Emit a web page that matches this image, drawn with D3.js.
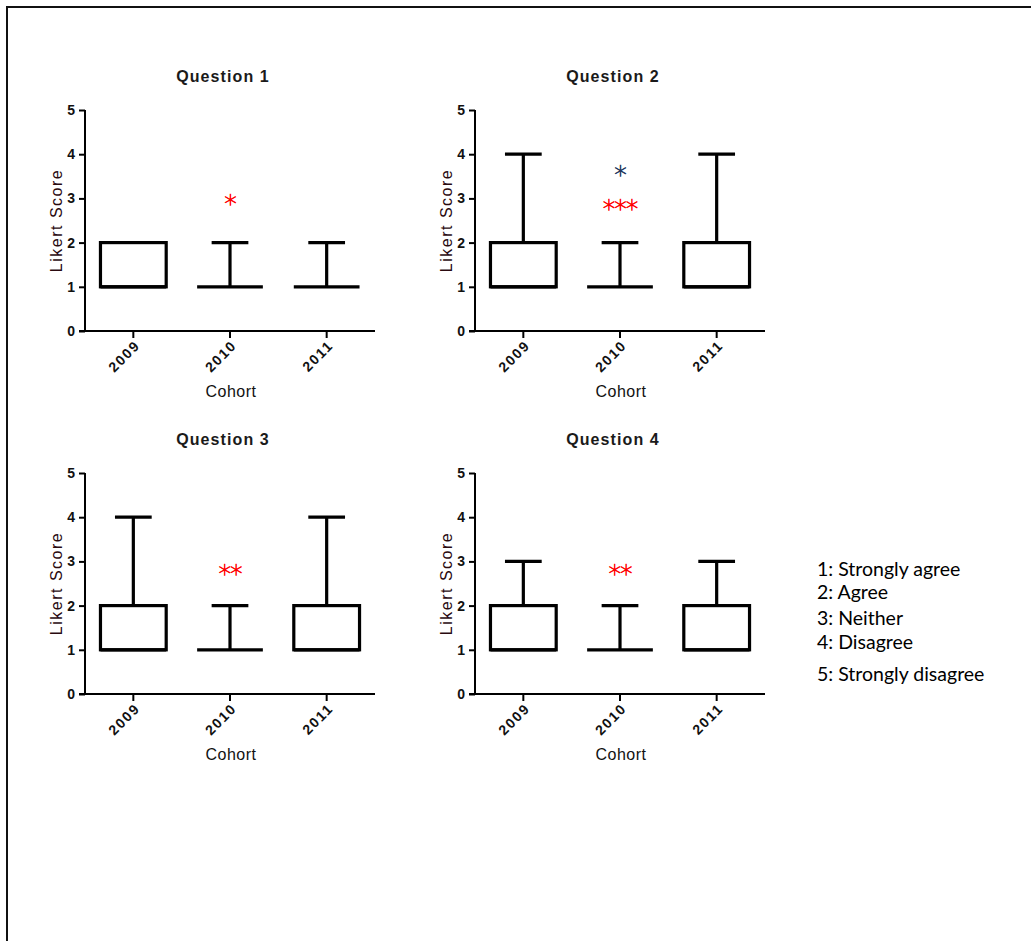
<!DOCTYPE html>
<html>
<head>
<meta charset="utf-8">
<script src="https://cdn.jsdelivr.net/npm/d3@7"></script>
<style>
  body { margin: 0; background: #fff; }
  svg { display: block; }
</style>
</head>
<body>
<svg id="chart" width="1031" height="941"></svg>
<script>
// ---- data ----
const questions = ["Question 1", "Question 2", "Question 3", "Question 4"];
const cohorts = ["2009", "2010", "2011"];
const yTicks = [0, 1, 2, 3, 4, 5];

// five-number summaries per cohort: [min, q1, median, q3, max]
const q1Stats = [[1, 1, 1, 2, 2], [1, 1, 1, 1, 2], [1, 1, 1, 1, 2]];
const q2Stats = [[1, 1, 1, 2, 4], [1, 1, 1, 1, 2], [1, 1, 1, 2, 4]];
const q3Stats = [[1, 1, 1, 2, 4], [1, 1, 1, 1, 2], [1, 1, 1, 2, 4]];
const q4Stats = [[1, 1, 1, 2, 3], [1, 1, 1, 1, 2], [1, 1, 1, 2, 3]];

// significance markers
const sigQuestion = [0, 1, 1, 2, 3];
const sigCohort = ["2010", "2010", "2010", "2010", "2010"];
const sigValue = [3.0, 3.67, 2.88, 2.85, 2.85];
const sigLabel = ["*", "*", "***", "**", "**"];
const sigColor = ["#ff0000", "#22365e", "#ff0000", "#ff0000", "#ff0000"];

const scaleKey = ["1: Strongly agree", "2: Agree", "3: Neither", "4: Disagree", "5: Strongly disagree"];

// ---- layout ----
const allStats = [q1Stats, q2Stats, q3Stats, q4Stats];
const plotW = 290, plotH = 221;
const colX = [85, 475];
const rowY = [110, 473];
const font = "'Liberation Sans', Arial, sans-serif";

const svg = d3.select("#chart");

// page frame
svg.append("path")
  .attr("d", "M7,945V7H1035")
  .attr("fill", "none")
  .attr("stroke", "#111")
  .attr("stroke-width", 2);

const x = d3.scaleBand().domain(cohorts).range([0, plotW]);
const y = d3.scaleLinear().domain([0, 5]).range([plotH, 0]);
const boxW = x.step() * 0.68;
const capW = x.step() * 0.38;

questions.forEach((q, qi) => {
  const g = svg.append("g")
    .attr("transform", `translate(${colX[qi % 2]},${rowY[Math.floor(qi / 2)]})`);

  // title
  g.append("text")
    .attr("x", 138).attr("y", -28)
    .attr("text-anchor", "middle")
    .attr("font-family", font).attr("font-size", 16).attr("font-weight", "bold")
    .attr("letter-spacing", 1.1)
    .attr("fill", "#1a1a1a")
    .text(q);

  // axes
  const yAxis = g.append("g")
    .call(d3.axisLeft(y).tickValues(yTicks).tickFormat(d3.format("d")).tickSize(6).tickPadding(4));
  const xAxis = g.append("g")
    .attr("transform", `translate(0,${plotH})`)
    .call(d3.axisBottom(x).tickSize(7).tickSizeOuter(0));

  [yAxis, xAxis].forEach(a => {
    a.select(".domain").attr("stroke", "#000").attr("stroke-width", 2);
    a.selectAll(".tick line").attr("stroke", "#000").attr("stroke-width", 2);
    a.selectAll("text")
      .attr("font-family", font).attr("font-size", 14).attr("font-weight", "bold")
      .attr("fill", "#111");
  });
  yAxis.select(".domain").attr("d", `M0,${plotH}V0`);
  xAxis.select(".domain").attr("d", `M-6,0H${plotW}`);

  xAxis.selectAll(".tick text")
    .attr("x", null).attr("y", null).attr("dy", "0.35em")
    .attr("text-anchor", "end")
    .attr("letter-spacing", 1.6)
    .attr("transform", "translate(4,12) rotate(-45)");

  // axis titles
  g.append("text")
    .attr("transform", `translate(-23,${plotH / 2}) rotate(-90)`)
    .attr("text-anchor", "middle")
    .attr("font-family", font).attr("font-size", 16)
    .attr("letter-spacing", 1.5)
    .attr("fill", "#2a0a10")
    .text("Likert Score");
  g.append("text")
    .attr("x", plotW / 2 + 1).attr("y", plotH + 66)
    .attr("text-anchor", "middle")
    .attr("font-family", font).attr("font-size", 16)
    .attr("letter-spacing", 0.5)
    .attr("fill", "#111")
    .text("Cohort");

  // box-and-whisker marks
  const stats = allStats[qi];
  cohorts.forEach((c, ci) => {
    const [mn, lo, med, hi, mx] = stats[ci];
    const cx = x(c) + x.bandwidth() / 2;
    const m = g.append("g")
      .attr("fill", "none").attr("stroke", "#000").attr("stroke-width", 3.2);
    // upper whisker
    if (mx > hi) {
      m.append("line").attr("x1", cx).attr("x2", cx).attr("y1", y(hi)).attr("y2", y(mx));
      m.append("line").attr("x1", cx - capW / 2).attr("x2", cx + capW / 2).attr("y1", y(mx)).attr("y2", y(mx));
    }
    // lower whisker
    if (mn < lo) {
      m.append("line").attr("x1", cx).attr("x2", cx).attr("y1", y(lo)).attr("y2", y(mn));
      m.append("line").attr("x1", cx - capW / 2).attr("x2", cx + capW / 2).attr("y1", y(mn)).attr("y2", y(mn));
    }
    // box
    if (hi > lo) {
      m.append("rect")
        .attr("x", cx - boxW / 2).attr("y", y(hi))
        .attr("width", boxW).attr("height", y(lo) - y(hi));
    }
    // median
    m.append("line").attr("x1", cx - boxW / 2).attr("x2", cx + boxW / 2).attr("y1", y(med)).attr("y2", y(med));
  });

  // significance markers
  sigQuestion.forEach((sq, i) => {
    if (sq !== qi) return;
    const fs = 25;
    g.append("text")
      .attr("x", x(sigCohort[i]) + x.bandwidth() / 2)
      .attr("y", y(sigValue[i]) + fs * 0.55)
      .attr("text-anchor", "middle")
      .attr("font-family", "'DejaVu Sans', sans-serif")
      .attr("font-weight", 200)
      .attr("font-size", fs)
      .attr("letter-spacing", -1)
      .attr("fill", sigColor[i])
      .attr("stroke", sigColor[i])
      .attr("stroke-width", 0.6)
      .text(sigLabel[i]);
  });
});

// score key
const keyY = [576, 599, 625, 649, 681];
svg.append("g")
  .selectAll("text")
  .data(scaleKey)
  .join("text")
  .attr("x", 817)
  .attr("y", (d, i) => keyY[i])
  .attr("font-family", "Lato, 'Open Sans', sans-serif")
  .attr("font-size", 19.5)
  .attr("fill", "#000")
  .text(d => d);
</script>
</body>
</html>
